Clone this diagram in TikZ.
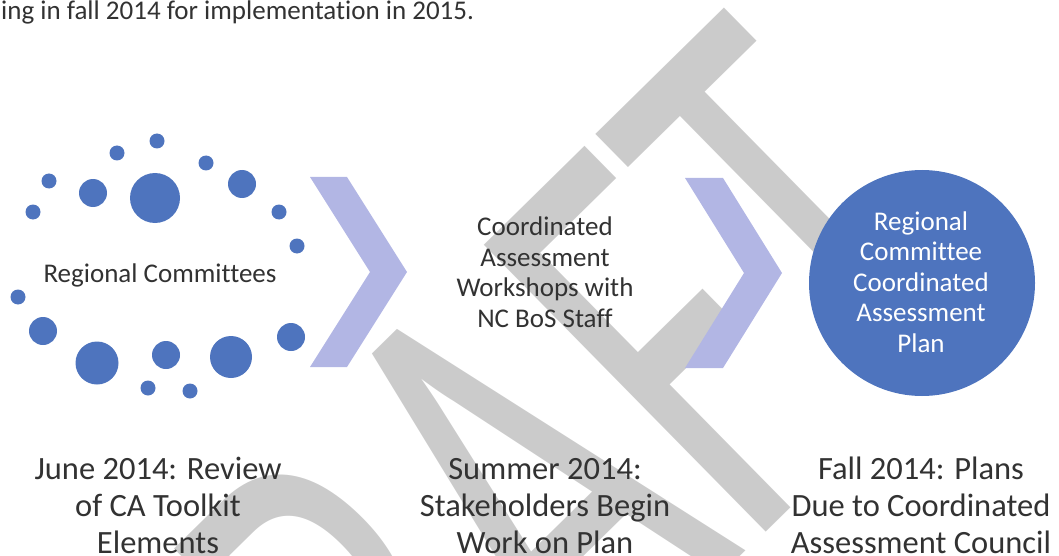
\documentclass[tikz,border=0pt]{standalone}
\usepackage{fontspec}
\setmainfont{Carlito}[Ligatures={NoCommon}]
\newfontfamily\wmfont{Carlito}
\usepackage{graphicx}
\definecolor{dotblue}{RGB}{78,116,190}
\definecolor{chev}{RGB}{178,182,228}
\definecolor{wm}{RGB}{203,203,203}
\definecolor{ink}{RGB}{50,50,50}
\tikzset{
  lbl/.style={inner sep=0pt, align=center, text=ink, font=\fontsize{27}{30.5}\selectfont},
  biglbl/.style={inner sep=0pt, align=center, text=ink, font=\fontsize{32.5}{37}\selectfont},
  dot/.style={fill=dotblue},
  chevron/.style={fill=chev},
}
\begin{document}
\begin{tikzpicture}[x=1pt,y=-1pt]
\useasboundingbox (0,0) rectangle (1059,556);
\clip (0,0) rectangle (1059,556);
% watermark
\node[rotate=44.5, anchor=base east, inner sep=0pt, text=wm, font=\wmfont\fontsize{627}{627}\selectfont] (draft) at (1010,292) {\scalebox{0.62}[1]{DRAFT}};
% chevrons
\fill[chevron] (310,177) -- ++(37,0) -- ++(60,95) -- ++(-60,95) -- ++(-37,0) -- ++(60,-95) -- cycle;
\fill[chevron] (685,178) -- ++(38,0) -- ++(59,95) -- ++(-59,95) -- ++(-38,0) -- ++(59,-95) -- cycle;
% dots
\foreach \x/\y/\r in {157/141/7.5, 117/153/7.5, 206/163/7.5, 49/181/7.5, 93/193/14, 155/198/25,
  242/184/14, 33/212/7.5, 279/212/7.5, 297/246/7.5, 18/297/7.5, 43/331/14, 97/363/21.5,
  166/355/14, 231/357/21, 291/337/14, 148/388/7.5, 190/391/7.5}
  \fill[dot] (\x,\y) circle[radius=\r];
% big circle
\node[circle, fill=dotblue, minimum size=226pt, inner sep=0pt] (plan) at (922,283) {};
% texts
\node[anchor=base west, inner sep=0pt, text=ink, font=\fontsize{27}{30}\selectfont] (intro) at (1,20) {ing in fall 2014 for implementation in 2015.};
\node[lbl, anchor=base] (rc) at (160,282) {Regional Committees};
\node[lbl, anchor=base] (ws) at (545,327) {Coordinated\\Assessment\\Workshops with\\NC BoS Staff};
\node[lbl, text=white, anchor=base] (pt) at (921,352) {Regional\\Committee\\Coordinated\\Assessment\\Plan};
\node[biglbl, anchor=base] (june) at (158,553) {June 2014: Review\\of CA Toolkit\\Elements};
\node[biglbl, anchor=base] (summer) at (545,553) {Summer 2014:\\Stakeholders Begin\\Work on Plan};
\node[biglbl, anchor=base] (fall) at (921,553) {Fall 2014: Plans\\Due to Coordinated\\Assessment Council};
\end{tikzpicture}
\end{document}
